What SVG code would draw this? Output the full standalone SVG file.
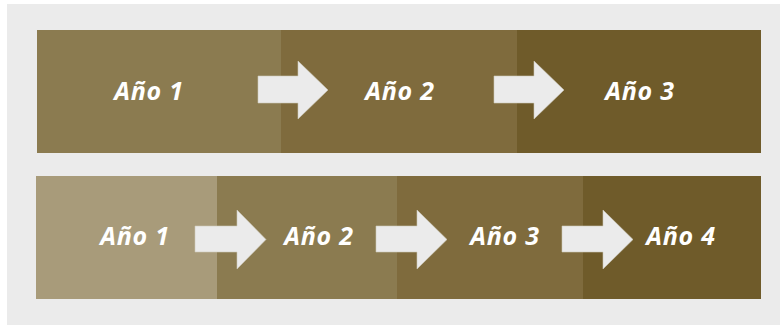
<svg xmlns="http://www.w3.org/2000/svg" width="782" height="325" viewBox="0 0 782 325">
<style>
.t{font-family:"Open Sans","DejaVu Sans",sans-serif;font-weight:bold;font-style:italic;font-size:25px;letter-spacing:0.8px;fill:#ffffff;text-anchor:middle}
.ar{fill:#ebebeb;stroke:#cfc9bb;stroke-width:0.6}
</style>
<rect x="0" y="0" width="782" height="325" fill="#ffffff"/>
<rect x="7" y="4" width="773" height="321" fill="#ebebeb"/>
<g id="row1">
<g id="r1n1"><rect x="37" y="30" width="244" height="123" fill="#8b7b50"/><text class="t" x="149" y="100">Año 1</text></g>
<g id="r1n2"><rect x="281" y="30" width="236" height="123" fill="#7f6b3d"/><text class="t" x="400" y="100">Año 2</text></g>
<g id="r1n3"><rect x="517" y="30" width="244" height="123" fill="#6f5b2a"/><text class="t" x="640" y="100">Año 3</text></g>
</g>
<g id="row2">
<g id="r2n1"><rect x="36" y="176" width="181" height="123" fill="#a89b7a"/><text class="t" x="135" y="245">Año 1</text></g>
<g id="r2n2"><rect x="217" y="176" width="180" height="123" fill="#8b7b50"/><text class="t" x="319" y="245">Año 2</text></g>
<g id="r2n3"><rect x="397" y="176" width="186" height="123" fill="#7f6b3d"/><text class="t" x="505" y="245">Año 3</text></g>
<g id="r2n4"><rect x="583" y="176" width="178" height="123" fill="#6f5b2a"/><text class="t" x="681" y="245">Año 4</text></g>
</g>
<g id="connectors">
<polygon class="ar" points="258,76 298,76 298,61 328,90 298,119 298,103 258,103"/>
<polygon class="ar" points="494,76 534,76 534,61 564,90 534,119 534,103 494,103"/>
<polygon class="ar" points="195,226 237,226 237,210 266,239.5 237,269 237,252 195,252"/>
<polygon class="ar" points="376,226 417,226 417,210 447,239.5 417,269 417,252 376,252"/>
<polygon class="ar" points="562,226 603,226 603,210 633,239.5 603,269 603,252 562,252"/>
</g>
</svg>
